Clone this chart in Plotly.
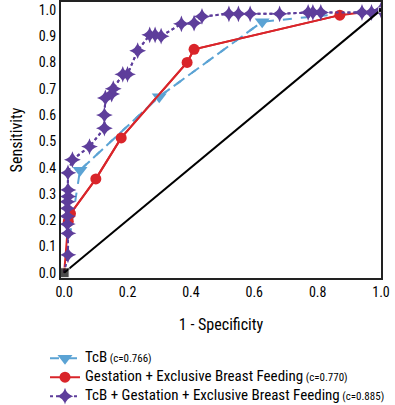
import plotly.graph_objects as go

# TcB
tcb_x = [0.0, 0.05, 0.30, 0.625, 1.0]
tcb_y = [0.0, 0.39, 0.67, 0.955, 1.0]

# Gestation + Exclusive Breast Feeding
geb_x = [0.0, 0.013, 0.02, 0.10, 0.18, 0.388, 0.41, 0.87, 1.0]
geb_y = [0.0, 0.195, 0.225, 0.357, 0.513, 0.80, 0.85, 0.98, 1.0]

# TcB + Gestation + Exclusive Breast Feeding
all_x = [0.0, 0.012, 0.012, 0.01, 0.01, 0.01, 0.01, 0.012, 0.012, 0.012, 0.026, 0.08,
         0.127, 0.127, 0.13, 0.15, 0.155, 0.185, 0.20, 0.232, 0.27, 0.287, 0.306,
         0.37, 0.41, 0.435, 0.52, 0.55, 0.587, 0.68, 0.77, 0.785, 0.81, 0.94, 0.97, 1.0]
all_y = [0.0, 0.068, 0.15, 0.185, 0.215, 0.245, 0.27, 0.29, 0.315, 0.38, 0.43, 0.48,
         0.55, 0.60, 0.665, 0.68, 0.70, 0.755, 0.755, 0.845, 0.905, 0.905, 0.90,
         0.947, 0.95, 0.975, 0.985, 0.985, 0.985, 0.985, 0.99, 0.99, 0.99, 0.99, 0.99, 1.0]

ref_x = [0.0, 1.0]
ref_y = [0.0, 1.0]

names = [
    "<span style='font-size:15px'>TcB</span> <span style='font-size:11px'>(c=0.766)</span>",
    "<span style='font-size:15px'>Gestation + Exclusive Breast Feeding</span> <span style='font-size:11px'>(c=0.770)</span>",
    "<span style='font-size:15px'>TcB + Gestation + Exclusive Breast Feeding</span> <span style='font-size:11px'>(c=0.885)</span>",
]

FONT = "Roboto Condensed, DejaVu Sans Condensed, sans-serif"
BLUE, RED, PURPLE = "#5BA3D4", "#D9252A", "#5E3E9B"

fig = go.Figure()
fig.add_trace(go.Scatter(x=tcb_x, y=tcb_y, mode="lines", showlegend=False,
                         line=dict(color=BLUE, width=2, dash="dash")))
fig.add_trace(go.Scatter(x=geb_x, y=geb_y, mode="lines", showlegend=False,
                         line=dict(color=RED, width=2)))
fig.add_trace(go.Scatter(x=all_x, y=all_y, mode="lines", showlegend=False,
                         line=dict(color=PURPLE, width=2, dash="dot")))
fig.add_trace(go.Scatter(x=tcb_x[1:-1], y=tcb_y[1:-1], mode="lines+markers", name=names[0],
                         line=dict(color=BLUE, width=2, dash="dash"),
                         marker=dict(symbol="triangle-down", size=13, color=BLUE)))
fig.add_trace(go.Scatter(x=geb_x[1:-1], y=geb_y[1:-1], mode="lines+markers", name=names[1],
                         line=dict(color=RED, width=2),
                         marker=dict(symbol="circle", size=11, color=RED)))
fig.add_trace(go.Scatter(x=all_x[1:], y=all_y[1:], mode="lines+markers", name=names[2],
                         line=dict(color=PURPLE, width=2, dash="dot"),
                         marker=dict(symbol="star-diamond", size=12, color=PURPLE)))
fig.add_trace(go.Scatter(x=ref_x, y=ref_y, mode="lines+markers", showlegend=False,
                         line=dict(color="black", width=2),
                         marker=dict(symbol="square", size=[10, 5], color="black")))

fig.update_layout(
    width=395, height=405,
    margin=dict(l=61, r=14, t=2, b=127, autoexpand=False),
    paper_bgcolor="white", plot_bgcolor="white",
    font=dict(family=FONT, size=14, color="black"),
    legend=dict(x=-0.05, y=-0.238, xanchor="left", yanchor="top",
                font=dict(size=10.8, family=FONT), valign="middle",
                bgcolor="rgba(0,0,0,0)", tracegroupgap=0, itemwidth=30),
    xaxis=dict(range=[-0.01, 1.0], tickvals=[0, 0.2, 0.4, 0.6, 0.8, 1.0],
               ticktext=["0.0", "0.2", "0.4", "0.6", "0.8", "1.0"],
               showgrid=False, zeroline=False, showline=True, linecolor="#222",
               linewidth=2, mirror=True, ticks="",
               title=dict(text="1 - Specificity", font=dict(size=16), standoff=20)),
    yaxis=dict(range=[-0.02, 1.03], tickvals=[0, 0.1, 0.2, 0.3, 0.4, 0.5, 0.6, 0.7, 0.8, 0.9, 1.0],
               ticktext=["0.0", "0.1", "0.2", "0.3", "0.4", "0.5", "0.6", "0.7", "0.8", "0.9", "1.0"],
               showgrid=False, zeroline=False, showline=True, linecolor="#222",
               linewidth=2, mirror=True, ticks="",
               title=dict(text="Sensitivity", font=dict(size=16), standoff=12)),
)

fig.write_html("out.html", config={"displayModeBar": False},
               post_script="document.body.style.margin='0';")
